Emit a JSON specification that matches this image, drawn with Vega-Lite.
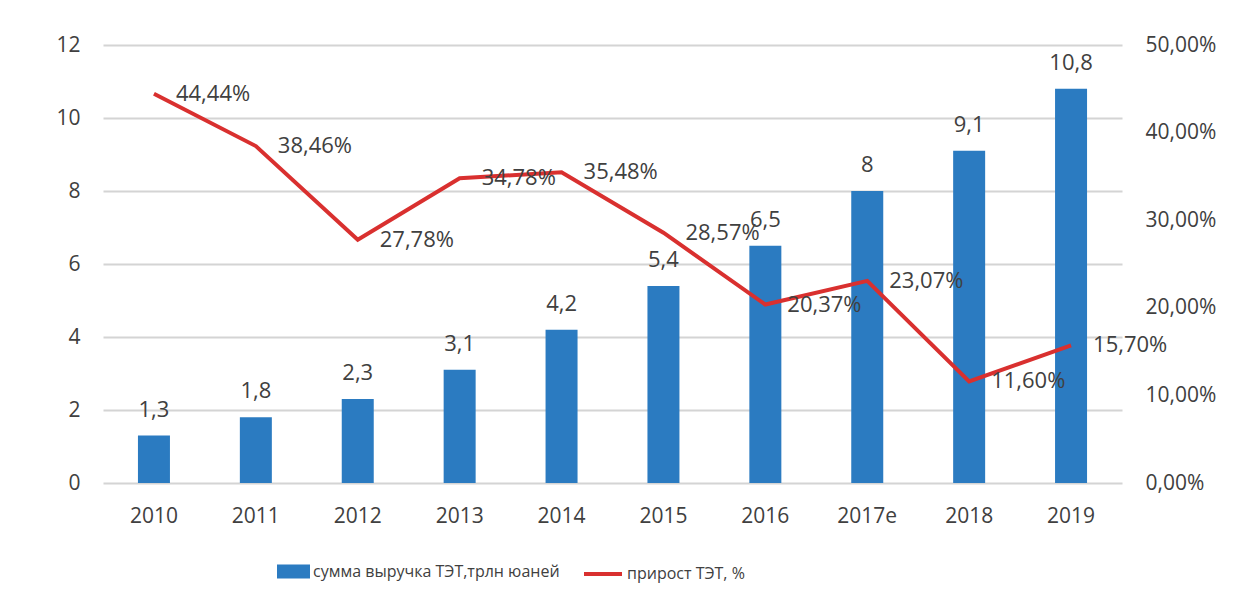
{
  "$schema": "https://vega.github.io/schema/vega-lite/v6.json",
  "autosize": {"type": "none"},
  "width": 1019,
  "height": 438,
  "padding": {"left": 103, "top": 45, "right": 123, "bottom": 124},
  "background": "white",
  "config": {
    "locale": {"number": {"decimal": ",", "thousands": " ", "grouping": [3], "currency": ["", ""]}},
    "font": "Open Sans",
    "view": {"stroke": null},
    "axis": {"labelFont": "Open Sans", "labelFontSize": 21, "labelColor": "#404040", "domain": false, "ticks": false, "title": null},
    "legend": {"labelFont": "Open Sans", "labelFontSize": 16, "labelColor": "#404040", "padding": 0, "title": null, "labelLimit": 400}
  },
  "data": {
    "values": [
      {"year": "2010", "revenue": 1.3, "growth": 0.4444},
      {"year": "2011", "revenue": 1.8, "growth": 0.3846},
      {"year": "2012", "revenue": 2.3, "growth": 0.2778},
      {"year": "2013", "revenue": 3.1, "growth": 0.3478},
      {"year": "2014", "revenue": 4.2, "growth": 0.3548},
      {"year": "2015", "revenue": 5.4, "growth": 0.2857},
      {"year": "2016", "revenue": 6.5, "growth": 0.2037},
      {"year": "2017e", "revenue": 8, "growth": 0.2307},
      {"year": "2018", "revenue": 9.1, "growth": 0.116},
      {"year": "2019", "revenue": 10.8, "growth": 0.157}
    ]
  },
  "encoding": {
    "x": {"field": "year", "type": "nominal", "sort": null,
      "scale": {"paddingInner": 0.686, "paddingOuter": 0.343},
      "axis": {"labelAngle": 0, "labelPadding": 22, "grid": false}}
  },
  "layer": [
    {
      "layer": [
        {
          "mark": {"type": "bar", "color": "#2b7bc1"},
          "encoding": {
            "y": {"field": "revenue", "type": "quantitative",
              "scale": {"domain": [0, 12], "nice": false},
              "axis": {"values": [0, 2, 4, 6, 8, 10, 12], "grid": true, "gridColor": "#d4d4d4", "gridWidth": 2, "labelPadding": 23, "orient": "left"}},
            "fill": {"datum": "сумма выручка ТЭТ,трлн юаней", "type": "nominal",
              "scale": {"range": ["#2b7bc1"]},
              "legend": {"orient": "none", "legendX": 174, "legendY": 510, "symbolType": "M-1,-0.42H1V0.42H-1Z", "symbolSize": 1089, "symbolStrokeWidth": 0, "labelOffset": 3}}
          }
        },
        {
          "mark": {"type": "text", "baseline": "alphabetic", "dy": -19, "fontSize": 22, "color": "#404040"},
          "encoding": {
            "y": {"field": "revenue", "type": "quantitative"},
            "text": {"field": "revenue", "type": "quantitative", "format": "~r"}
          }
        }
      ]
    },
    {
      "layer": [
        {
          "mark": {"type": "line", "color": "#d9302f", "strokeWidth": 4},
          "encoding": {
            "y": {"field": "growth", "type": "quantitative",
              "scale": {"domain": [0, 0.5], "nice": false},
              "axis": {"values": [0, 0.1, 0.2, 0.3, 0.4, 0.5], "format": ".2%", "grid": false, "orient": "right", "labelPadding": 23}},
            "stroke": {"datum": "прирост ТЭТ, %", "type": "nominal",
              "scale": {"range": ["#d9302f"]},
              "legend": {"orient": "none", "legendX": 479, "legendY": 508, "symbolType": "stroke", "symbolSize": 1444, "symbolStrokeWidth": 4, "labelOffset": 3}}
          }
        },
        {
          "mark": {"type": "text", "align": "left", "baseline": "middle", "dx": 22, "fontSize": 22, "color": "#404040"},
          "encoding": {
            "y": {"field": "growth", "type": "quantitative"},
            "text": {"field": "growth", "type": "quantitative", "format": ".2%"}
          }
        }
      ]
    }
  ],
  "resolve": {"scale": {"y": "independent"}}
}
